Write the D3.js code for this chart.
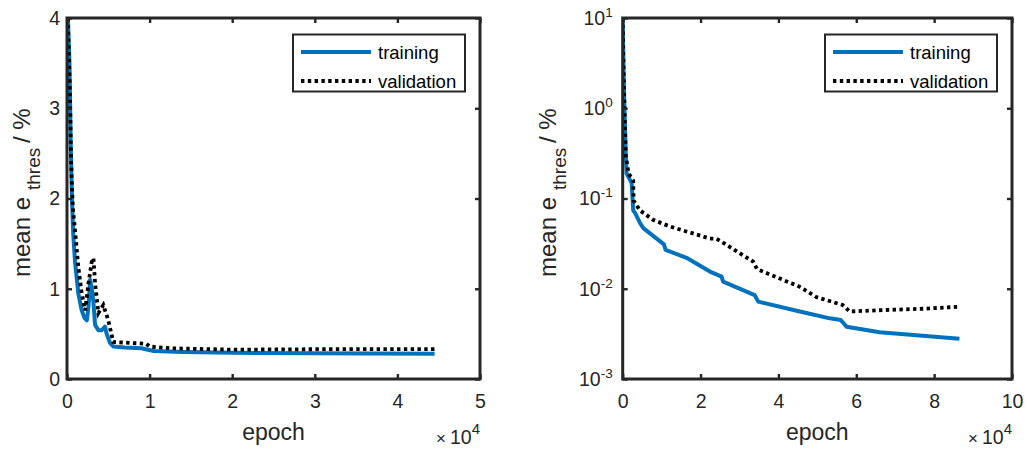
<!DOCTYPE html>
<html>
<head>
<meta charset="utf-8">
<script src="https://cdn.jsdelivr.net/npm/d3@7/dist/d3.min.js"></script>
<style>
  body { margin: 0; background: #fff; }
  svg { font-family: "Liberation Sans", Arial, sans-serif; }
</style>
</head>
<body>
<div id="chart"></div>
<script>
// left panel, linear y axis (epochs, mean e_thres in %)
const linTrainEpoch = [0, 300, 450, 600, 760, 970, 1370, 1780, 2100, 2400, 2600, 2800, 3000, 3200, 3400, 3800, 4200, 4600, 4800, 5200, 5600, 7000, 9000, 10500, 14000, 20000, 30000, 44500];
const linTrainErr   = [4.3, 3.5, 2.6, 2.0, 1.6, 1.3, 0.95, 0.76, 0.68, 0.65, 0.8, 1.1, 1.0, 0.85, 0.6, 0.54, 0.54, 0.58, 0.5, 0.4, 0.36, 0.35, 0.34, 0.31, 0.3, 0.29, 0.285, 0.28];
const linValEpoch = [0, 350, 500, 700, 970, 1370, 1780, 2200, 2600, 3000, 3200, 3400, 3800, 4400, 5000, 5600, 9600, 10000, 12500, 20000, 30000, 44500];
const linValErr   = [4.3, 3.2, 2.4, 1.9, 1.65, 1.24, 0.95, 0.76, 1.06, 1.3, 1.34, 1.06, 0.73, 0.82, 0.65, 0.41, 0.39, 0.36, 0.34, 0.325, 0.33, 0.33];

// right panel, log y axis
const logTrainEpoch = [0, 200, 400, 600, 800, 1000, 2300, 2700, 3200, 4500, 5300, 10600, 11000, 16400, 22400, 25400, 25800, 33900, 34800, 45500, 53200, 56000, 57500, 66000, 86500];
const logTrainErr   = [10, 3, 1.23, 0.6, 0.3, 0.19, 0.148, 0.074, 0.069, 0.053, 0.047, 0.031, 0.027, 0.022, 0.0155, 0.0136, 0.012, 0.0085, 0.0072, 0.0056, 0.0047, 0.0045, 0.0038, 0.0033, 0.0028];
const logValEpoch = [0, 200, 400, 600, 800, 1500, 2700, 2800, 4400, 7800, 12100, 22400, 24000, 25000, 32700, 33500, 34500, 45500, 49700, 56500, 58300, 66700, 77000, 86000];
const logValErr   = [10, 3, 1.23, 0.6, 0.3, 0.19, 0.158, 0.095, 0.074, 0.058, 0.049, 0.036, 0.036, 0.034, 0.021, 0.02, 0.0165, 0.0105, 0.0081, 0.0066, 0.0056, 0.0058, 0.006, 0.0063];

const linXTicks = [0, 1, 2, 3, 4, 5];       // x 10^4
const linYTicks = [0, 1, 2, 3, 4];
const logXTicks = [0, 2, 4, 6, 8, 10];      // x 10^4
const logYExps  = [-3, -2, -1, 0, 1];
const seriesNames = ["training", "validation"];

const width = 1027, height = 453;
const axisColor = "#262626";
const blue = "#0072BD";

const svg = d3.select("#chart").append("svg")
    .attr("width", width)
    .attr("height", height);

function drawPanel({ left, right, yScaleType, yDomain, xMax, xTicks, yTicks, train, val, id, labelX }) {
    const top = 18, bottom = 379;
    const x = d3.scaleLinear([0, xMax], [left, right]);
    const y = yScaleType(yDomain, [bottom, top]);

    const g = svg.append("g");

    g.append("clipPath").attr("id", id)
        .append("rect")
        .attr("x", left).attr("y", top)
        .attr("width", right - left).attr("height", bottom - top);

    const line = d3.line()
        .x(d => x(d[0]))
        .y(d => y(d[1]));

    g.append("path")
        .attr("clip-path", `url(#${id})`)
        .attr("fill", "none")
        .attr("stroke", blue)
        .attr("stroke-width", 4)
        .attr("stroke-linejoin", "round")
        .attr("d", line(train));

    g.append("path")
        .attr("clip-path", `url(#${id})`)
        .attr("fill", "none")
        .attr("stroke", "#000")
        .attr("stroke-width", 3.8)
        .attr("stroke-dasharray", "3.4 3.4")
        .attr("d", line(val));

    // box with inward ticks on all sides
    const xTickVals = xTicks.map(d => d * 1e4);
    const xb = g.append("g")
        .attr("transform", `translate(0,${bottom})`)
        .call(d3.axisBottom(x).tickValues(xTickVals).tickSize(-5).tickPadding(15)
            .tickFormat(d => d / 1e4));
    const xt = g.append("g")
        .attr("transform", `translate(0,${top})`)
        .call(d3.axisTop(x).tickValues(xTickVals).tickSize(-5).tickFormat(""));

    let yl, yr;
    if (yScaleType === d3.scaleLog) {
        const vals = yTicks.map(e => Math.pow(10, e));
        yl = g.append("g").attr("transform", `translate(${left},0)`)
            .call(d3.axisLeft(y).tickValues(vals).tickSize(-5).tickPadding(10).tickFormat(""));
        yl.selectAll(".tick text").each(function (d) {
            const t = d3.select(this);
            const e = Math.round(Math.log10(d));
            t.append("tspan").text("10");
            t.append("tspan").attr("dy", -8).attr("font-size", 13.5).text(e);
        });
        yr = g.append("g").attr("transform", `translate(${right},0)`)
            .call(d3.axisRight(y).tickValues(vals).tickSize(-5).tickFormat(""));
    } else {
        yl = g.append("g").attr("transform", `translate(${left},0)`)
            .call(d3.axisLeft(y).tickValues(yTicks).tickSize(-5).tickPadding(7).tickFormat(d3.format("d")));
        yr = g.append("g").attr("transform", `translate(${right},0)`)
            .call(d3.axisRight(y).tickValues(yTicks).tickSize(-5).tickFormat(""));
    }

    [xb, xt, yl, yr].forEach(a => {
        a.select(".domain").remove();
        a.selectAll(".tick line").attr("stroke", axisColor).attr("stroke-width", 2.4);
        a.selectAll(".tick text").attr("fill", axisColor).attr("font-size", 19.5)
            .attr("font-family", "Liberation Sans, Arial, sans-serif");
    });

    g.append("rect")
        .attr("x", left).attr("y", top)
        .attr("width", right - left).attr("height", bottom - top)
        .attr("fill", "none")
        .attr("stroke", axisColor)
        .attr("stroke-width", 3);

    // x label + exponent
    g.append("text")
        .attr("x", (left + right) / 2).attr("y", 440)
        .attr("text-anchor", "middle")
        .attr("font-size", 23)
        .attr("fill", axisColor)
        .text("epoch");

    const ex = g.append("text")
        .attr("x", right).attr("y", 444)
        .attr("text-anchor", "end")
        .attr("font-size", 19.5)
        .attr("fill", axisColor);
    ex.append("tspan").attr("font-size", 17).text("\u00d7");
    ex.append("tspan").attr("dx", 4).text("10");
    ex.append("tspan").attr("dy", -10).attr("font-size", 15).text("4");

    // y label, rotated
    const yg = g.append("g")
        .attr("transform", `translate(${labelX},277) rotate(-90)`)
        .attr("fill", axisColor);
    yg.append("text").attr("x", 0).attr("y", 0).attr("font-size", 24).text("mean e");
    yg.append("text").attr("x", 87).attr("y", 10).attr("font-size", 19).text("thres");
    yg.append("text").attr("x", 134).attr("y", 0).attr("font-size", 24).text("/ %");

    // legend
    const lw = 172, lh = 57;
    const lx = right - 15 - lw, ly = 34.5;
    const lg = g.append("g").attr("transform", `translate(${lx},${ly})`);
    lg.append("rect")
        .attr("width", lw).attr("height", lh)
        .attr("fill", "#fff")
        .attr("stroke", axisColor)
        .attr("stroke-width", 2);
    const rows = [
        { name: seriesNames[0], color: blue, dash: null, yy: 17.5 },
        { name: seriesNames[1], color: "#000", dash: "3.4 3.4", yy: 46.5 }
    ];
    rows.forEach(r => {
        lg.append("line")
            .attr("x1", 8).attr("x2", 78)
            .attr("y1", r.yy).attr("y2", r.yy)
            .attr("stroke", r.color)
            .attr("stroke-width", 3.8)
            .attr("stroke-dasharray", r.dash);
        lg.append("text")
            .attr("x", 85).attr("y", r.yy + 6.5)
            .attr("font-size", 18.5)
            .attr("fill", "#000")
            .text(r.name);
    });
}

drawPanel({
    id: "clipL", left: 67, right: 480,
    yScaleType: d3.scaleLinear, yDomain: [0, 4],
    xMax: 50000, xTicks: linXTicks, yTicks: linYTicks,
    train: linTrainEpoch.map((e, i) => [e, linTrainErr[i]]),
    val: linValEpoch.map((e, i) => [e, linValErr[i]]),
    labelX: 30
});

drawPanel({
    id: "clipR", left: 622.7, right: 1012,
    yScaleType: d3.scaleLog, yDomain: [1e-3, 10],
    xMax: 100000, xTicks: logXTicks, yTicks: logYExps,
    train: logTrainEpoch.map((e, i) => [e, logTrainErr[i]]),
    val: logValEpoch.map((e, i) => [e, logValErr[i]]),
    labelX: 556
});
</script>
</body>
</html>
